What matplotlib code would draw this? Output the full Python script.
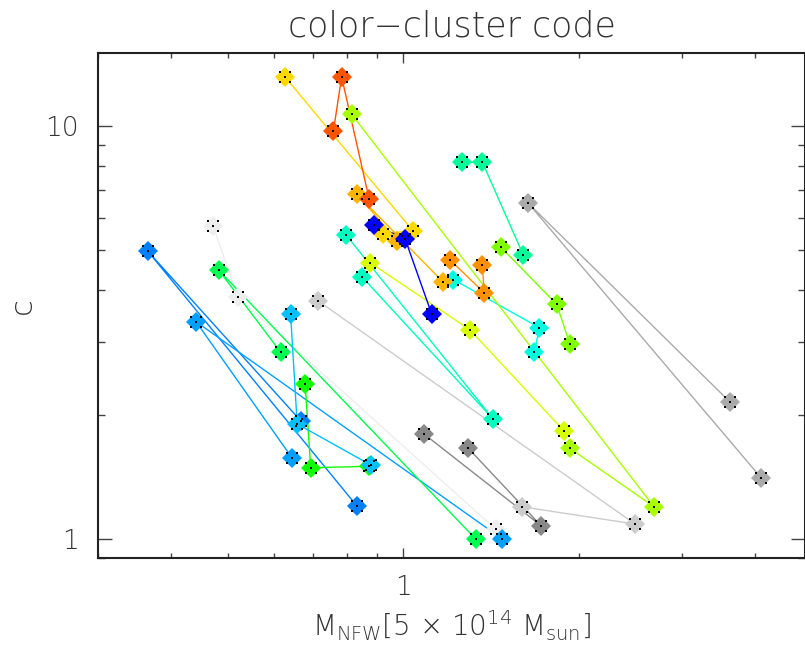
import numpy as np
import matplotlib
matplotlib.use("Agg")
import matplotlib.pyplot as plt
from matplotlib.path import Path
from matplotlib.ticker import LogLocator, FixedLocator, NullFormatter, FixedFormatter

plt.rcParams["mathtext.fontset"] = "custom"
plt.rcParams["mathtext.rm"] = "DejaVu Sans:light"
plt.rcParams["mathtext.it"] = "DejaVu Sans:light"

# one entry per cluster: three halos, listed in the order they are joined
cluster_colors = [
    "#eeeeee", "#0080ff", "#00a0ff", "#00ff50", "#10ff00", "#00c0ff",
    "#cccccc", "#888888", "#aaaaaa", "#00ffc0", "#00ffe0", "#00ff99",
    "#80ff00", "#a8ff00", "#d8ff00", "#ffd800", "#ffb400", "#ff9000",
    "#ff5500", "#0000ff",
]

mass = [
    [0.472, 0.521, 1.439],   # very light grey
    [0.668, 0.3654, 0.832],  # dodger blue
    [0.6455, 0.4416, 1.477], # azure
    [0.617, 0.4835, 1.330],  # green
    [0.679, 0.694, 0.873],   # bright green
    [0.641, 0.658, 0.880],   # sky blue
    [0.715, 2.493, 1.595],   # light grey
    [1.085, 1.721, 1.292],   # grey
    [3.626, 1.637, 4.098],   # silver
    [0.797, 1.426, 0.850],   # teal
    [1.218, 1.710, 1.676],   # cyan
    [1.259, 1.366, 1.605],   # spring green
    [1.467, 1.831, 1.929],   # chartreuse
    [0.816, 2.687, 1.929],   # yellow-green
    [0.877, 1.301, 1.884],   # yellow
    [0.627, 1.038, 0.922],   # gold
    [0.977, 0.832, 1.168],   # amber
    [1.202, 1.375, 1.366],   # orange
    [0.759, 0.784, 0.874],   # red-orange
    [0.892, 1.007, 1.118],   # blue
]

conc = [
    [5.74, 3.85, 1.056],
    [1.93, 4.97, 1.204],
    [1.568, 3.36, 1.00],
    [2.83, 4.47, 1.00],
    [2.38, 1.488, 1.50],
    [3.51, 1.90, 1.51],
    [3.77, 1.087, 1.197],
    [1.796, 1.077, 1.658],
    [2.146, 6.50, 1.407],
    [5.46, 1.949, 4.31],
    [4.25, 3.25, 2.83],
    [8.17, 8.17, 4.87],
    [5.10, 3.70, 2.96],
    [10.67, 1.197, 1.658],
    [4.67, 3.21, 1.826],
    [13.16, 5.58, 5.49],
    [5.27, 6.85, 4.20],
    [4.74, 3.95, 4.62],
    [9.72, 13.16, 6.65],
    [5.76, 5.33, 3.51],
]

# small black dots at the centre and corners of every symbol
verts, codes = [], []
h = 0.2
for cx, cy in [(0, 0), (-1, -1), (1, -1), (-1, 1), (1, 1)]:
    verts += [(cx - h, cy - h), (cx + h, cy - h), (cx + h, cy + h),
              (cx - h, cy + h), (cx - h, cy - h)]
    codes += [Path.MOVETO, Path.LINETO, Path.LINETO, Path.LINETO, Path.CLOSEPOLY]
dots = Path(verts, codes)

fig = plt.figure(figsize=(8.05, 6.47), dpi=100)
ax = fig.add_axes([98 / 805, 89 / 647, 707 / 805, 505 / 647])
ax.set_xscale("log")
ax.set_yscale("log")

for col, m, c in zip(cluster_colors, mass, conc):
    ax.plot(m, c, "-", color=col, lw=1.0, zorder=2)
    ax.plot(m, c, "D", color=col, ms=10.5, mew=0, ls="none", zorder=3)
    ax.plot(m, c, marker=dots, color="k", ms=8.8, mew=0, ls="none", zorder=4)

ax.set_xlim(0.300, 4.873)
ax.set_ylim(0.8995, 15.03)

ax.xaxis.set_major_locator(FixedLocator([1]))
ax.xaxis.set_major_formatter(FixedFormatter(["1"]))
ax.xaxis.set_minor_locator(LogLocator(base=10, subs=np.arange(2, 10)))
ax.xaxis.set_minor_formatter(NullFormatter())
ax.yaxis.set_major_locator(FixedLocator([1, 10]))
ax.yaxis.set_major_formatter(FixedFormatter(["1", "10"]))
ax.yaxis.set_minor_locator(LogLocator(base=10, subs=np.arange(2, 10)))
ax.yaxis.set_minor_formatter(NullFormatter())

ax.tick_params(axis="both", which="both", direction="in", top=True, right=True,
               color="#444444", width=1.0, labelsize=19, labelcolor="#333333")
ax.tick_params(axis="x", which="major", length=7, pad=12)
ax.tick_params(axis="x", which="minor", length=3.5)
ax.tick_params(axis="y", which="major", length=10, pad=14)
ax.tick_params(axis="y", which="minor", length=5)
for lbl in ax.get_xticklabels() + ax.get_yticklabels():
    lbl.set_fontweight("light")
for sp in ax.spines.values():
    sp.set_linewidth(1.5)
    sp.set_color("#222222")

ax.set_title("color\u2212cluster code", fontsize=25, color="#333333", pad=12,
             fontweight="light")
ax.set_xlabel(r"M$_{\rm NFW}$[5 $\times$ 10$^{14}$ M$_{\rm sun}$]", fontsize=20,
              color="#333333", labelpad=6, fontweight="light")
ax.set_ylabel("c", fontsize=22, color="#333333", labelpad=6, fontweight="light")

fig.savefig("out.png", dpi=100)
